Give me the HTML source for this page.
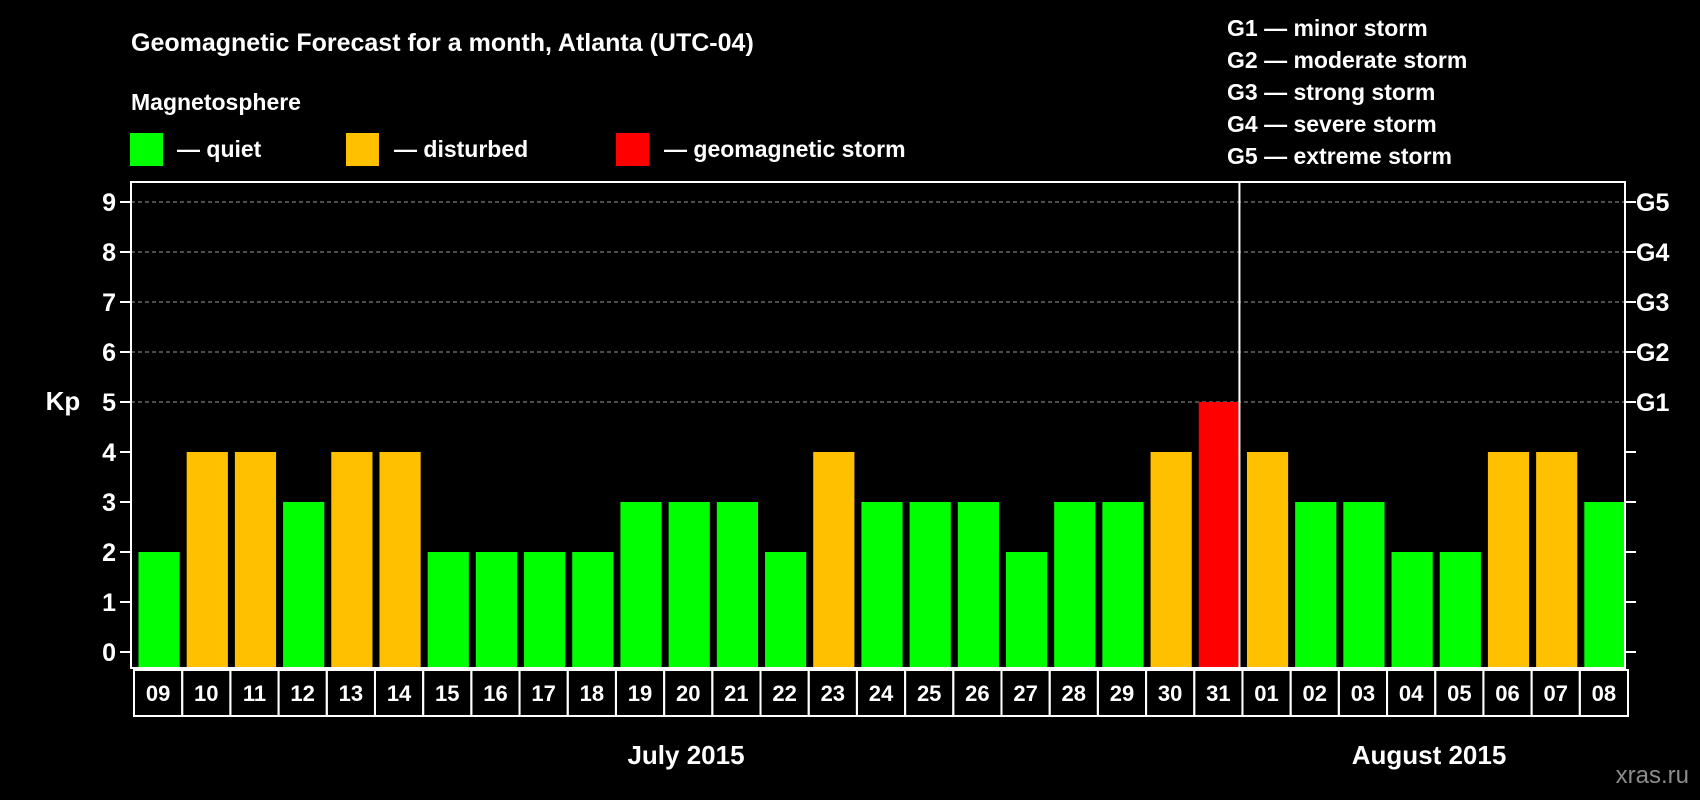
<!DOCTYPE html>
<html><head><meta charset="utf-8"><style>
html,body{margin:0;padding:0;background:#000;}
svg{display:block;font-family:"Liberation Sans",Arial,sans-serif;font-weight:bold;}
</style></head><body>
<svg id="chart" width="1700" height="800" viewBox="0 0 1700 800">
<text x="131" y="51" font-size="25" fill="#fff">Geomagnetic Forecast for a month, Atlanta (UTC-04)</text>
<text x="131" y="110" font-size="23" fill="#fff">Magnetosphere</text>
<g><rect x="130" y="133" width="33" height="33" fill="#00ff00"/><text x="177" y="157" font-size="23" fill="#fff">— quiet</text></g>
<g><rect x="346" y="133" width="33" height="33" fill="#ffc000"/><text x="394" y="157" font-size="23" fill="#fff">— disturbed</text></g>
<g><rect x="616" y="133" width="33" height="33" fill="#ff0000"/><text x="664" y="157" font-size="23" fill="#fff">— geomagnetic storm</text></g>
<g font-size="23" fill="#fff">
<text x="1227" y="36">G1 — minor storm</text>
<text x="1227" y="68">G2 — moderate storm</text>
<text x="1227" y="100">G3 — strong storm</text>
<text x="1227" y="132">G4 — severe storm</text>
<text x="1227" y="164">G5 — extreme storm</text>
</g>
<text x="63" y="410" font-size="26" fill="#fff" text-anchor="middle">Kp</text>
<g id="plot"></g>
<text x="686" y="764" font-size="26" fill="#fff" text-anchor="middle">July 2015</text>
<text x="1429" y="764" font-size="26" fill="#fff" text-anchor="middle">August 2015</text>
<text x="1689" y="783" font-size="24" fill="#8c8c8c" text-anchor="end" font-weight="normal">xras.ru</text>
</svg>
<script>
const days = ["09","10","11","12","13","14","15","16","17","18","19","20","21","22","23","24","25","26","27","28","29","30","31","01","02","03","04","05","06","07","08"];
const kpValues = [2,4,4,3,4,4,2,2,2,2,3,3,3,2,4,3,3,3,2,3,3,4,5,4,3,3,2,2,4,4,3];
const yTicks = [0,1,2,3,4,5,6,7,8,9];
const gLabels = ["G1","G2","G3","G4","G5"];
const gLevels = [5,6,7,8,9];
const monthBreakIndex = 23;

const NS = "http://www.w3.org/2000/svg";
const plot = document.getElementById("plot");
const L = 131, R = 1625, T = 182, B = 668;
const pitch = (R - L) / days.length;
const xAt = i => L + i * pitch;
const yAt = v => 652 - v * 50;
function mk(tag, attrs) { const e = document.createElementNS(NS, tag); for (const k in attrs) e.setAttribute(k, attrs[k]); plot.appendChild(e); return e; }

yTicks.forEach(v => {
  if (v >= 5) {
    const g = mk("line", {x1: L, x2: R, y1: yAt(v), y2: yAt(v), stroke: "#999", "stroke-width": 1, "stroke-dasharray": "4,3"});
    
    
  }
  const t1 = mk("line", {x1: L - 11, x2: L, y1: yAt(v), y2: yAt(v), stroke: "#fff", "stroke-width": 2});
  
  
  const t2 = mk("line", {x1: R, x2: R + 11, y1: yAt(v), y2: yAt(v), stroke: "#fff", "stroke-width": 2});
  
  
  const lb = mk("text", {x: 116, y: yAt(v) + 9, "font-size": 25, fill: "#fff", "text-anchor": "end"});
  lb.textContent = v;
  
  
});
gLabels.forEach((g, i) => {
  const lb = mk("text", {x: 1636, y: yAt(gLevels[i]) + 9, "font-size": 25, fill: "#fff"});
  lb.textContent = g;
  
  
});
kpValues.forEach((v, i) => {
  const col = v >= 5 ? "#ff0000" : (v >= 4 ? "#ffc000" : "#00ff00");
  const b = mk("rect", {x: xAt(i) + 7.5, y: yAt(v), width: pitch - 7, height: B - yAt(v) - 1, fill: col});
  
  
  const bx = mk("rect", {x: xAt(i) + 3, y: 670, width: pitch, height: 46, fill: "none", stroke: "#fff", "stroke-width": 2});
  
  
  const t = mk("text", {x: xAt(i) + 3 + pitch / 2, y: 701, "font-size": 22, fill: "#fff", "text-anchor": "middle"});
  t.textContent = days[i];
  
  
});
const fr = mk("rect", {x: L, y: T, width: R - L, height: B - T, fill: "none", stroke: "#fff", "stroke-width": 2});


const dv = mk("line", {x1: xAt(monthBreakIndex), x2: xAt(monthBreakIndex), y1: T, y2: B, stroke: "#fff", "stroke-width": 2});


</script>
</body></html>
